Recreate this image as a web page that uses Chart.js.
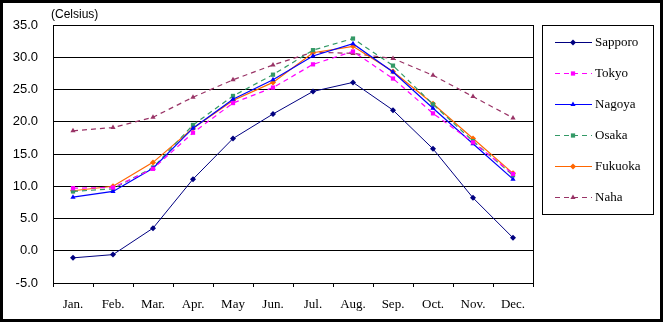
<!DOCTYPE html>
<html>
<head>
<meta charset="utf-8">
<script src="https://cdn.jsdelivr.net/npm/chart.js@4/dist/chart.umd.min.js"></script>
<style>
  html, body { margin: 0; padding: 0; background: #fff; }
  #wrap { width: 664px; height: 323px; }
</style>
</head>
<body>
<div id="wrap"><canvas id="tempChart" width="664" height="323"></canvas></div>
<script>
const months = ["Jan.", "Feb.", "Mar.", "Apr.", "May", "Jun.",
  "Jul.", "Aug.", "Sep.", "Oct.", "Nov.", "Dec."];

const sapporo = [-1.1, -0.6, 3.5, 11.1, 17.4, 21.2, 24.7, 26.1, 21.8, 15.8, 8.2, 2.0];
const tokyo   = [9.7, 9.8, 12.7, 18.3, 22.9, 25.3, 28.9, 30.9, 26.7, 21.3, 16.8, 11.9];
const nagoya  = [8.3, 9.2, 12.8, 19.0, 23.5, 26.5, 30.2, 32.1, 27.7, 22.1, 16.6, 11.1];
const osaka   = [9.2, 9.6, 12.9, 19.5, 24.0, 27.3, 31.1, 32.9, 28.7, 22.7, 17.0, 11.7];
const fukuoka = [9.3, 10.0, 13.7, 19.0, 23.3, 26.1, 30.7, 31.7, 27.8, 22.8, 17.4, 12.0];
const naha    = [18.6, 19.1, 20.7, 23.8, 26.5, 28.8, 30.8, 30.6, 29.8, 27.2, 23.9, 20.6];

const yTicks = [-5, 0, 5, 10, 15, 20, 25, 30, 35];

function serie(label, data, color, dash, style, width) {
  return {
    label: label,
    data: data,
    borderColor: color,
    backgroundColor: color,
    borderWidth: width,
    borderDash: dash,
    pointStyle: style,
    pointRadius: style === "rectRot" ? 3 : 3,
    pointBorderWidth: 0,
    pointBackgroundColor: color,
    tension: 0,
    fill: false
  };
}

// moldura externa, caixa da área do gráfico, título do eixo e legenda
const decoracao = {
  id: "decoracao",
  afterDraw(chart) {
    const c = chart.ctx;
    const a = chart.chartArea;
    c.save();
    c.strokeStyle = "#000";
    c.lineWidth = 1;
    c.setLineDash([]);
    c.strokeRect(Math.round(a.left) + 0.5, Math.round(a.top) + 0.5,
      Math.round(a.right - a.left), Math.round(a.bottom - a.top));

    c.lineWidth = 3;
    c.strokeRect(1.5, 1.5, 660, 319);

    c.fillStyle = "#000";
    c.font = "12px 'Liberation Sans'";
    c.textBaseline = "middle";
    c.textAlign = "left";
    c.fillText("(Celsius)", 51, 15);

    // legenda
    c.lineWidth = 1;
    c.strokeRect(542.5, 25.5, 111, 189);
    chart.data.datasets.forEach((ds, i) => {
      const y = 42 + i * 31;
      c.strokeStyle = ds.borderColor;
      c.lineWidth = ds.borderWidth;
      c.setLineDash(ds.borderDash || []);
      c.beginPath();
      c.moveTo(555, y + 0.5);
      c.lineTo(592, y + 0.5);
      c.stroke();
      c.setLineDash([]);
      c.fillStyle = ds.borderColor;
      Chart.helpers.drawPoint(c, { pointStyle: ds.pointStyle, radius: 3, rotation: 0, borderWidth: 0 }, 573, y + 0.5);
      c.fillStyle = "#000";
      c.font = "13px 'Liberation Serif'";
      c.fillText(ds.label, 595, y + 1);
    });
    c.restore();
  }
};

const ctx = document.getElementById("tempChart").getContext("2d");
const chart = new Chart(ctx, {
  type: "line",
  data: {
    labels: months,
    datasets: [
      serie("Sapporo", sapporo, "#000080", [], "rectRot", 1),
      serie("Tokyo", tokyo, "#FF00FF", [5, 4], "rect", 1.2),
      serie("Nagoya", nagoya, "#0000FF", [], "triangle", 1.2),
      serie("Osaka", osaka, "#339966", [5, 4], "rect", 1.2),
      serie("Fukuoka", fukuoka, "#FF6600", [], "rectRot", 1.2),
      serie("Naha", naha, "#993366", [5, 4], "triangle", 1.2)
    ]
  },
  options: {
    responsive: false,
    animation: false,
    layout: { padding: { left: 0, top: 25, right: 131, bottom: 0 } },
    plugins: {
      legend: { display: false },
      tooltip: { enabled: false }
    },
    scales: {
      x: {
        offset: true,
        afterFit(scale) { scale.height = 40; },
        grid: {
          offset: true,
          drawOnChartArea: false,
          drawTicks: true,
          tickLength: 4,
          color: "#000"
        },
        border: { color: "#000" },
        ticks: {
          color: "#000",
          padding: 10,
          maxRotation: 0,
          font: { family: "'Liberation Serif'", size: 13 }
        }
      },
      y: {
        min: -5,
        max: 35,
        afterFit(scale) { scale.width = 53; },
        afterBuildTicks(scale) { scale.ticks = yTicks.map(v => ({ value: v })); },
        grid: { color: "#000", lineWidth: 1, drawTicks: false },
        border: { color: "#000" },
        ticks: {
          color: "#000",
          padding: 15,
          font: { family: "'Liberation Sans'", size: 13 },
          callback: v => v.toFixed(1)
        }
      }
    }
  },
  plugins: [decoracao]
});
</script>
</body>
</html>
